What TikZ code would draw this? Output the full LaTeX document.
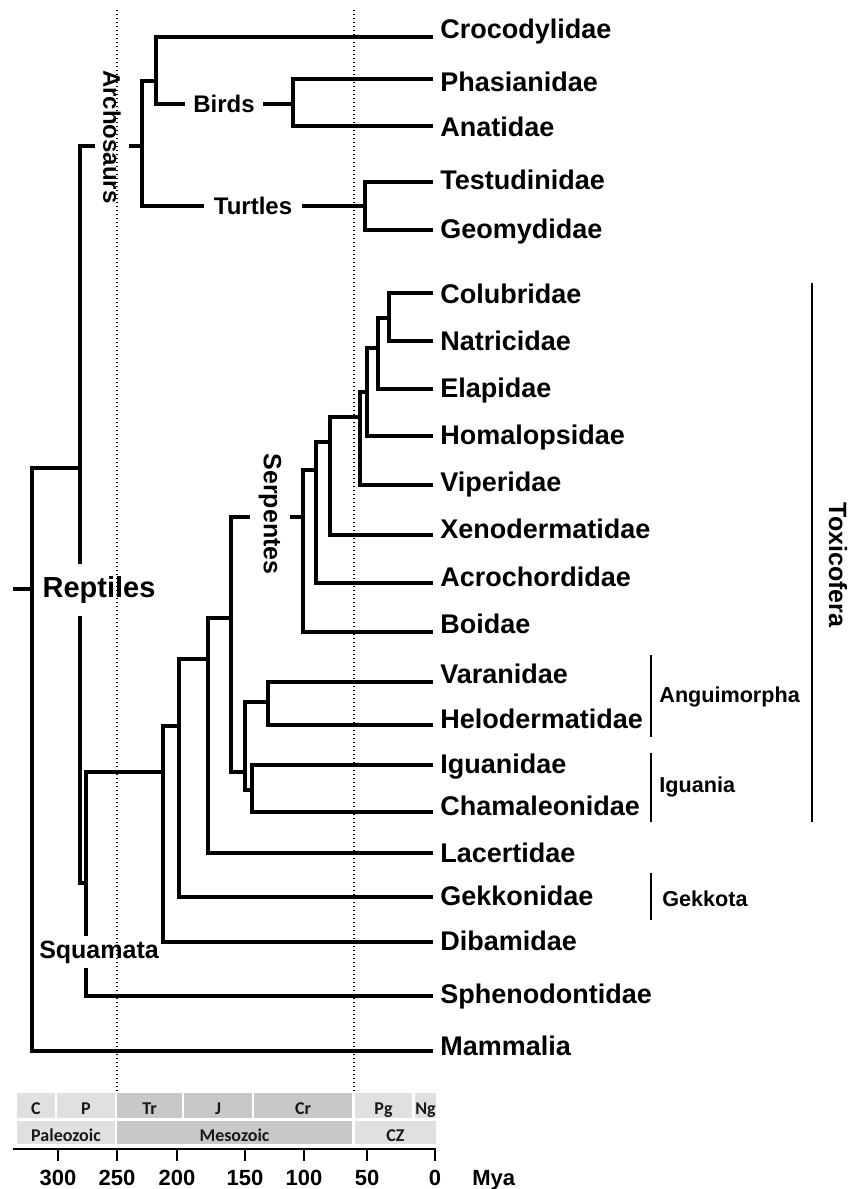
\documentclass[tikz,border=0pt]{standalone}
\usepackage{fontspec}
\setmainfont{Liberation Sans}
\newfontfamily\erafont{Carlito}
\usepackage{tikz}
\definecolor{branchcol}{RGB}{0,0,0}
\definecolor{erapale}{RGB}{224,224,224}
\definecolor{eradark}{RGB}{200,200,200}
\definecolor{eratext}{RGB}{25,25,25}
\tikzset{
  branch/.style={line width=1.6pt, color=branchcol},
  taxon/.style={anchor=base west, inner sep=0pt, font=\bfseries\fontsize{13.5}{16}\selectfont},
  clade/.style={fill=white, inner xsep=1pt, font=\bfseries\fontsize{12}{14}\selectfont},
  groupbar/.style={line width=0.8pt, color=branchcol},
  group/.style={anchor=base west, inner sep=0pt, font=\bfseries\fontsize{10.8}{13}\selectfont},
  guide/.style={line width=0.6pt, dash pattern=on 0.6pt off 1.4pt},
  eralabel/.style={anchor=base, inner sep=0pt, text=eratext, font=\erafont\bfseries\fontsize{9}{11}\selectfont},
  ticklabel/.style={anchor=base, inner sep=0pt, font=\bfseries\fontsize{11}{13}\selectfont}
}

\begin{document}
\begin{tikzpicture}[x=0.5pt, y=-0.5pt]
  \useasboundingbox (0,0) rectangle (850,1189);

  % Internal nodes of the tree
  \coordinate (RootStub) at (13,589);
  \coordinate (Root) at (32,589);
  \coordinate (Rep) at (80,468);
  \coordinate (Arc) at (142,146);
  \coordinate (CroBir) at (156,81);
  \coordinate (Bir) at (293,104);
  \coordinate (Tur) at (365,206);
  \coordinate (Squ) at (86,883);
  \coordinate (LizA) at (163,772);
  \coordinate (LizB) at (179,726);
  \coordinate (LizC) at (208,659);
  \coordinate (Tox) at (231,618);
  \coordinate (Ser) at (303,517);
  \coordinate (SerB) at (316,470);
  \coordinate (SerC) at (330,442);
  \coordinate (SerD) at (360,417);
  \coordinate (SerE) at (367,392);
  \coordinate (SerF) at (378,348);
  \coordinate (SerG) at (389,318);
  \coordinate (AngIgu) at (245,772);
  \coordinate (Ang) at (268,702);
  \coordinate (IguN) at (252,790);

  % Leaf ends
  \foreach \name/\ypos in {Croc/37, Phas/79, Anat/126, Test/182, Geom/230,
      Colu/293, Natr/341, Elap/389, Homa/436, Vipe/485, Xeno/535, Acro/583,
      Boid/632, Vara/682, Helo/725, Igua/765, Cham/812, Lace/853, Gekk/897,
      Diba/942, Sphe/996, Mamm/1051}
    \coordinate (\name) at (433,\ypos);

  % Branches
  \draw[branch] (RootStub) -- (Root);
  \foreach \from/\to in {Root/Rep, Root/Mamm, Rep/Arc, Rep/Squ,
      Arc/CroBir, Arc/Tur, CroBir/Croc, CroBir/Bir, Bir/Phas, Bir/Anat,
      Tur/Test, Tur/Geom, Squ/LizA, Squ/Sphe, LizA/LizB, LizA/Diba,
      LizB/LizC, LizB/Gekk, LizC/Tox, LizC/Lace, Tox/Ser, Tox/AngIgu,
      Ser/SerB, Ser/Boid, SerB/SerC, SerB/Acro, SerC/SerD, SerC/Xeno,
      SerD/SerE, SerD/Vipe, SerE/SerF, SerE/Homa, SerF/SerG, SerF/Elap,
      SerG/Colu, SerG/Natr, AngIgu/Ang, AngIgu/IguN, Ang/Vara, Ang/Helo,
      IguN/Igua, IguN/Cham}
    \draw[branch] (\from) |- (\to);

  % Clade names cut into the branches
  \node[clade, inner xsep=4pt] (Birds) at (224,104) {Birds};
  \node[clade, inner xsep=5pt] (Turtles) at (253,206) {Turtles};
  \node[clade, rotate=-90, inner xsep=0pt, inner ysep=3.9pt] (Archosaurs) at (112,137) {Archosaurs};
  \node[clade, rotate=-90, inner xsep=0pt, inner ysep=4.5pt, font=\bfseries\fontsize{12.5}{15}\selectfont] (Serpentes) at (270,514) {Serpentes};
  \node[clade, inner ysep=6.2pt, font=\bfseries\fontsize{14.5}{17}\selectfont] (Reptiles) at (99,590) {Reptiles};
  \node[clade, inner xsep=0.5pt, inner ysep=2.4pt, font=\bfseries\fontsize{12.5}{15}\selectfont] (Squamata) at (99,952) {Squamata};

  % Dotted time guides at 250 and 66 Mya
  \draw[guide] (117,10) -- (117,1092);
  \draw[guide] (354,10) -- (354,1092);

  % Taxon names
  \foreach \name/\txt/\ybase in {Croc/Crocodylidae/38, Phas/Phasianidae/91,
      Anat/Anatidae/136, Test/Testudinidae/189, Geom/Geomydidae/238,
      Colu/Colubridae/303, Natr/Natricidae/350, Elap/Elapidae/397,
      Homa/Homalopsidae/444, Vipe/Viperidae/491, Xeno/Xenodermatidae/538,
      Acro/Acrochordidae/586, Boid/Boidae/633, Vara/Varanidae/683,
      Helo/Helodermatidae/728, Igua/Iguanidae/773, Cham/Chamaleonidae/815,
      Lace/Lacertidae/862, Gekk/Gekkonidae/905, Diba/Dibamidae/950,
      Sphe/Sphenodontidae/1003, Mamm/Mammalia/1055}
    \node[taxon] (\name-lbl) at (440,\ybase) {\txt};

  % Group bars
  \coordinate (ToxTop) at (812,283);
  \coordinate (ToxBot) at (812,822);
  \draw[groupbar] (ToxTop) -- (ToxBot);
  \node[rotate=-90, inner sep=0pt, font=\bfseries\fontsize{12.5}{15}\selectfont] (Toxicofera) at (838,565) {Toxicofera};
  \coordinate (AngTop) at (651,655);
  \coordinate (AngBot) at (651,737);
  \draw[groupbar] (AngTop) -- (AngBot);
  \node[group] (Anguimorpha) at (659,702) {Anguimorpha};
  \coordinate (IguTop) at (651,753);
  \coordinate (IguBot) at (651,822);
  \draw[groupbar] (IguTop) -- (IguBot);
  \node[group] (Iguania) at (659,792) {Iguania};
  \coordinate (GekTop) at (651,873);
  \coordinate (GekBot) at (651,920);
  \draw[groupbar] (GekTop) -- (GekBot);
  \node[group] (Gekkota) at (662,906) {Gekkota};

  % Geological time scale
  \foreach \xa/\xb/\lbl/\col in {17/55/C/erapale, 57/115/P/erapale,
      117/182/Tr/eradark, 184/252/J/eradark, 254/352/Cr/eradark,
      355/412/Pg/erapale, 415/436/Ng/erapale} {
    \fill[\col] (\xa,1093) rectangle (\xb,1118);
    \node[eralabel] (era-\lbl) at ({(\xa+\xb)/2},1114) {\lbl};
  }
  \foreach \xa/\xb/\lbl/\col in {17/115/Paleozoic/erapale,
      117/352/Mesozoic/eradark, 355/436/CZ/erapale} {
    \fill[\col] (\xa,1121) rectangle (\xb,1144);
    \node[eralabel] (era-\lbl) at ({(\xa+\xb)/2},1141) {\lbl};
  }

  % Axis in Mya
  \coordinate (AxisL) at (13,1149);
  \coordinate (AxisR) at (436,1149);
  \draw[line width=1pt] (AxisL) -- (AxisR);
  \foreach \xpos/\lbl in {58/300, 117/250, 177/200, 245/150, 304/100, 367/50, 435/0} {
    \draw[line width=1pt] (\xpos,1149) -- (\xpos,1161);
    \node[ticklabel] (tick-\lbl) at (\xpos,1185) {\lbl};
  }
  \node[ticklabel, anchor=base west] (Mya) at (472,1185) {Mya};
\end{tikzpicture}
\end{document}
